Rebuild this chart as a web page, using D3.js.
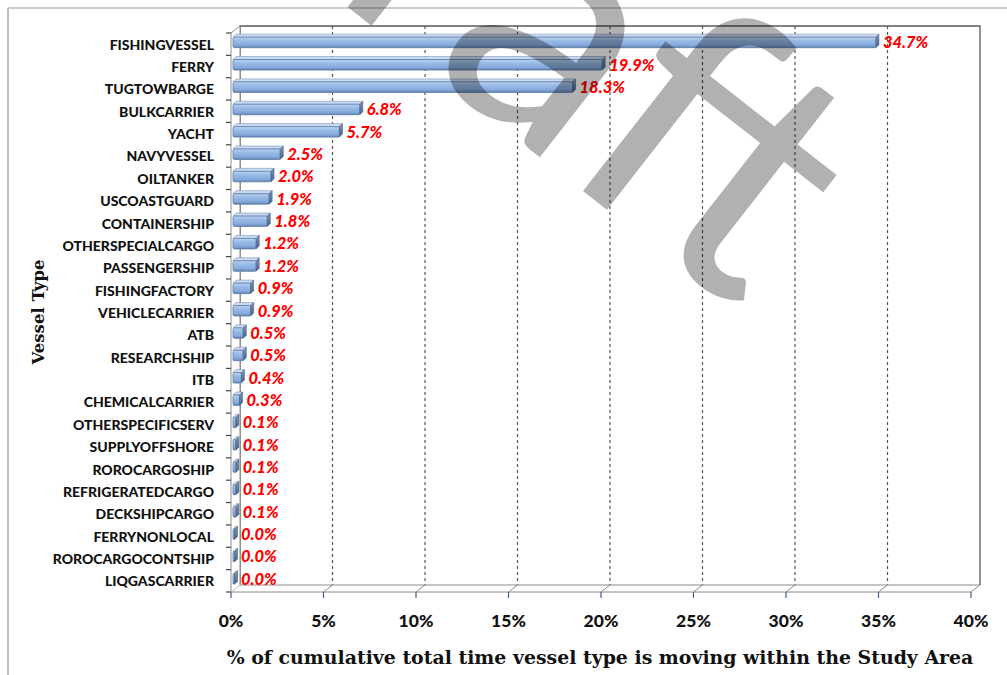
<!DOCTYPE html>
<html>
<head>
<meta charset="utf-8">
<script src="https://cdn.jsdelivr.net/npm/d3@7"></script>
<style>
  body { margin: 0; background: #fff; }
  svg { display: block; }
</style>
</head>
<body>
<svg id="chart" width="1007" height="675"></svg>
<script>
// Vessel types, top to bottom
const categories = [
  "FISHINGVESSEL", "FERRY", "TUGTOWBARGE", "BULKCARRIER", "YACHT",
  "NAVYVESSEL", "OILTANKER", "USCOASTGUARD", "CONTAINERSHIP",
  "OTHERSPECIALCARGO", "PASSENGERSHIP", "FISHINGFACTORY", "VEHICLECARRIER",
  "ATB", "RESEARCHSHIP", "ITB", "CHEMICALCARRIER", "OTHERSPECIFICSERV",
  "SUPPLYOFFSHORE", "ROROCARGOSHIP", "REFRIGERATEDCARGO", "DECKSHIPCARGO",
  "FERRYNONLOCAL", "ROROCARGOCONTSHIP", "LIQGASCARRIER"
];
// Share (%) of cumulative total moving time per vessel type
const values = [
  34.7, 19.9, 18.3, 6.8, 5.7,
  2.5, 2.0, 1.9, 1.8,
  1.2, 1.2, 0.9, 0.9,
  0.5, 0.5, 0.4, 0.3, 0.1,
  0.1, 0.1, 0.1, 0.1,
  0.0, 0.0, 0.0
];
const xTicks = [0, 5, 10, 15, 20, 25, 30, 35, 40];
const xTitle = "% of cumulative total time vessel type is moving within the Study Area";
const yTitle = "Vessel Type";
const watermark = "Draft";

const svg = d3.select("#chart");
const W = 1007, H = 675;

// front plane of the 3-D plot box
const x = d3.scaleLinear().domain([0, 40]).range([231, 971]);
const y = d3.scaleBand().domain(categories).range([33, 592]).padding(0);
const DX = 9, DY = -7;            // depth offset of the back wall
const yTop = y.range()[0], yBot = y.range()[1];

// outer chart frame (top and left edges visible)
svg.append("line").attr("x1", 8).attr("y1", 8).attr("x2", W).attr("y2", 8)
  .attr("stroke", "#bdbdbd").attr("stroke-width", 1.5);
svg.append("line").attr("x1", 8).attr("y1", 8).attr("x2", 8).attr("y2", H)
  .attr("stroke", "#bdbdbd").attr("stroke-width", 2);

// defs: bar gradients
const defs = svg.append("defs");
const gFront = defs.append("linearGradient").attr("id", "barFront")
  .attr("x1", 0).attr("y1", 0).attr("x2", 0).attr("y2", 1);
[["0%", "#bdd4f2"], ["35%", "#97bae6"], ["75%", "#86aadc"], ["100%", "#5f82b2"]]
  .forEach(([o, c]) => gFront.append("stop").attr("offset", o).attr("stop-color", c));
const gSide = defs.append("linearGradient").attr("id", "barSide")
  .attr("x1", 0).attr("y1", 0).attr("x2", 0).attr("y2", 1);
[["0%", "#7d95b5"], ["100%", "#4a6387"]]
  .forEach(([o, c]) => gSide.append("stop").attr("offset", o).attr("stop-color", c));

// back wall
const bx0 = x(0) + DX, bx1 = x(40) + DX, by0 = yTop + DY, by1 = yBot + DY;
svg.append("path")
  .attr("d", `M${bx0},${by1} L${bx0},${by0} L${bx1},${by0} L${bx1},${by1}`)
  .attr("fill", "none").attr("stroke", "#5a5a5a").attr("stroke-width", 1.3);

// vertical dashed gridlines on the back wall
svg.append("g").selectAll("line")
  .data(xTicks.filter(t => t > 0 && t < 40))
  .join("line")
  .attr("x1", d => x(d) + DX).attr("x2", d => x(d) + DX)
  .attr("y1", by0).attr("y2", by1)
  .attr("stroke", "#555").attr("stroke-width", 1.2)
  .attr("stroke-dasharray", "3,3");

// floor
svg.append("path")
  .attr("d", `M${x(0)},${yBot} L${bx0},${by1} L${bx1},${by1} L${x(40)},${yBot} Z`)
  .attr("fill", "#fff").attr("stroke", "#8a8a8a").attr("stroke-width", 1);
svg.append("g").selectAll("line")
  .data(xTicks.slice(1, -1))
  .join("line")
  .attr("x1", d => x(d)).attr("y1", yBot)
  .attr("x2", d => x(d) + DX).attr("y2", by1)
  .attr("stroke", "#8a8a8a").attr("stroke-width", 1);

// left side wall
svg.append("path")
  .attr("d", `M${x(0)},${yBot} L${x(0)},${yTop} L${bx0},${by0} L${bx0},${by1}`)
  .attr("fill", "#fff").attr("stroke", "#8a8a8a").attr("stroke-width", 1);

// y axis ticks (category boundaries)
const bounds = categories.map(c => y(c)).concat([yBot]);
svg.append("g").selectAll("line").data(bounds).join("line")
  .attr("x1", x(0) - 5).attr("x2", x(0)).attr("y1", d => d).attr("y2", d => d)
  .attr("stroke", "#444").attr("stroke-width", 1.2);

// x axis ticks
svg.append("g").selectAll("line").data(xTicks).join("line")
  .attr("x1", d => x(d)).attr("x2", d => x(d)).attr("y1", yBot).attr("y2", yBot + 6)
  .attr("stroke", "#3f5f86").attr("stroke-width", 1.2);

// bars (front face, top face, right end face)
const bd = 3;                       // bar depth offset
const bars = svg.append("g");
categories.forEach((c, i) => {
  const v = values[i];
  const yc = y(c) + y.bandwidth() / 2;
  const xL = x(0) + 2, xR = Math.max(x(v) + 3, xL + 1.5);
  const f0 = yc - 7, f1 = yc + 3.5;
  const g = bars.append("g");
  g.append("path")
    .attr("d", `M${xL},${f0} L${xR},${f0} L${xR + bd},${f0 - bd} L${xL + bd},${f0 - bd} Z`)
    .attr("fill", "#c9dbf3").attr("stroke", "#7d96b8").attr("stroke-width", 0.6);
  g.append("rect")
    .attr("x", xL).attr("y", f0).attr("width", xR - xL).attr("height", f1 - f0)
    .attr("rx", 1.5)
    .attr("fill", "url(#barFront)").attr("stroke", "#5e7ca4").attr("stroke-width", 0.8);
  g.append("path")
    .attr("d", `M${xR},${f0} L${xR + bd},${f0 - bd} L${xR + bd},${f1 - bd} L${xR},${f1} Z`)
    .attr("fill", "url(#barSide)").attr("stroke", "#4a6387").attr("stroke-width", 0.6);
});

// category labels
svg.append("g").selectAll("text").data(categories).join("text")
  .attr("x", 214).attr("y", d => y(d) + y.bandwidth() / 2)
  .attr("text-anchor", "end").attr("dominant-baseline", "central")
  .attr("font-family", "Lato, 'Open Sans', sans-serif")
  .attr("font-weight", 900).attr("font-size", 14).attr("fill", "#111")
  .text(d => d);

// value labels
svg.append("g").selectAll("text").data(values).join("text")
  .attr("x", d => x(d) + 10)
  .attr("y", (d, i) => y(categories[i]) + y.bandwidth() / 2 - 2)
  .attr("dominant-baseline", "central")
  .attr("font-family", "Lato, 'Open Sans', sans-serif")
  .attr("font-weight", 900).attr("font-style", "italic")
  .attr("font-size", 16.5).attr("fill", "#ff0000")
  .text(d => d.toFixed(1) + "%");

// x tick labels
svg.append("g").selectAll("text").data(xTicks).join("text")
  .attr("x", d => x(d)).attr("y", 620)
  .attr("text-anchor", "middle").attr("dominant-baseline", "central")
  .attr("font-family", "Lato, 'Open Sans', sans-serif")
  .attr("font-weight", 900).attr("font-size", 17.5).attr("fill", "#111")
  .text(d => d + "%");

// axis titles
svg.append("text")
  .attr("x", 600).attr("y", 664).attr("text-anchor", "middle")
  .attr("font-family", "'DejaVu Serif', serif")
  .attr("font-weight", "bold").attr("font-size", 18.9).attr("fill", "#111")
  .text(xTitle);
svg.append("text")
  .attr("transform", "translate(44,312) rotate(-90)")
  .attr("text-anchor", "middle")
  .attr("font-family", "'DejaVu Serif', serif")
  .attr("font-weight", "bold").attr("font-size", 16.5).attr("fill", "#111")
  .text(yTitle);

// watermark: placed so the stem of "f" sits at a chosen point
const wmAngle = 38, wmSize = 340;
const wm = svg.append("text")
  .attr("font-family", "Lato, sans-serif")
  .attr("font-size", wmSize).attr("fill", "#000").attr("opacity", 0.3)
  .text(watermark);
const pre = wm.node().getSubStringLength(0, 3) + 0.07 * wmSize;
const a = wmAngle * Math.PI / 180;
const fx = 574, fy = 184;
wm.attr("transform",
  `translate(${fx - pre * Math.cos(a)},${fy - pre * Math.sin(a)}) rotate(${wmAngle})`);
</script>
</body>
</html>
